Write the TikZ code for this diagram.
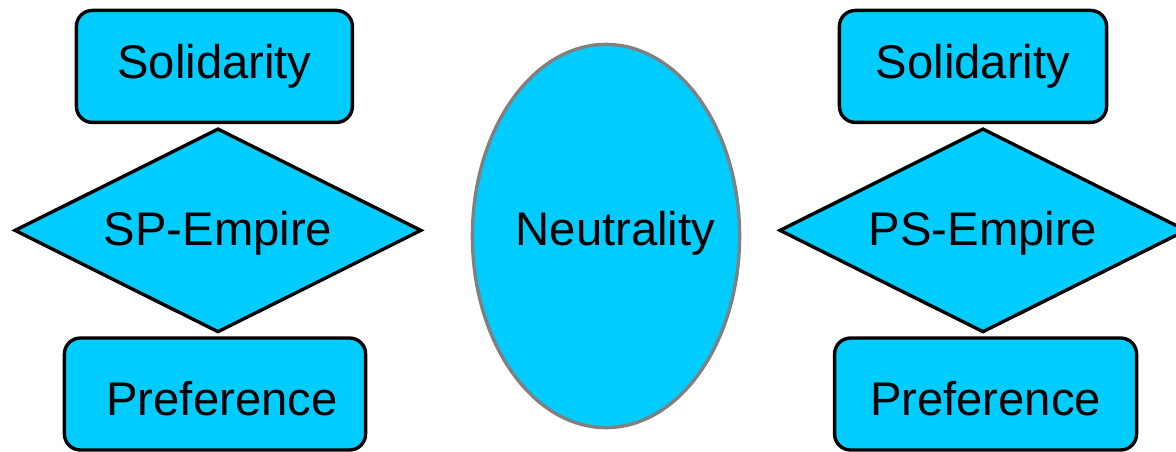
\documentclass[tikz,border=0pt]{standalone}
\usepackage{fontspec}
\setmainfont{Liberation Sans}
\usetikzlibrary{shapes.geometric}
\definecolor{cielbleu}{HTML}{00CCFF}
\definecolor{bordgris}{HTML}{808080}
% decale le texte sans changer sa boite
\newcommand{\decale}[2]{\raisebox{#1}[\height][\depth]{#2}}
\begin{document}
\begin{tikzpicture}[
    every node/.style={font=\fontsize{33.6}{40}\selectfont, inner sep=0pt},
    boite/.style={draw, line width=2.4pt, fill=cielbleu, rounded corners=0.4cm,
        minimum height=2.8cm},
    losange/.style={draw, line width=2.4pt, fill=cielbleu, diamond, shape aspect=2,
        minimum width=10.18cm, minimum height=5.1cm},
    ovale/.style={draw=bordgris, line width=2.4pt, fill=cielbleu, ellipse,
        minimum width=6.68cm, minimum height=9.58cm},
]
\useasboundingbox (0,0) rectangle (29.4,-11.275);

% Groupe de gauche
\node[boite, minimum width=6.9cm] (solG) at (5.36,-1.66) {Solidarity};
\node[losange] (empG) at (5.45,-5.76) {\decale{-0.08cm}{SP-Empire}};
\node[boite, minimum width=7.53cm] (prefG) at (5.375,-9.85) {\decale{-0.12cm}{\hspace*{0.35cm}Preference}};

% Au milieu
\node[ovale] (neutre) at (15.15,-5.9) {\makebox[0pt]{\hspace*{0.47cm}\decale{0.07cm}{Neutrality}}};

% Groupe de droite
\node[boite, minimum width=6.68cm] (solD) at (24.325,-1.66) {Solidarity};
\node[losange] (empD) at (24.575,-5.76) {\decale{-0.08cm}{PS-Empire}};
\node[boite, minimum width=7.55cm] (prefD) at (24.64,-9.85) {\decale{-0.12cm}{Preference}};

\end{tikzpicture}
\end{document}
